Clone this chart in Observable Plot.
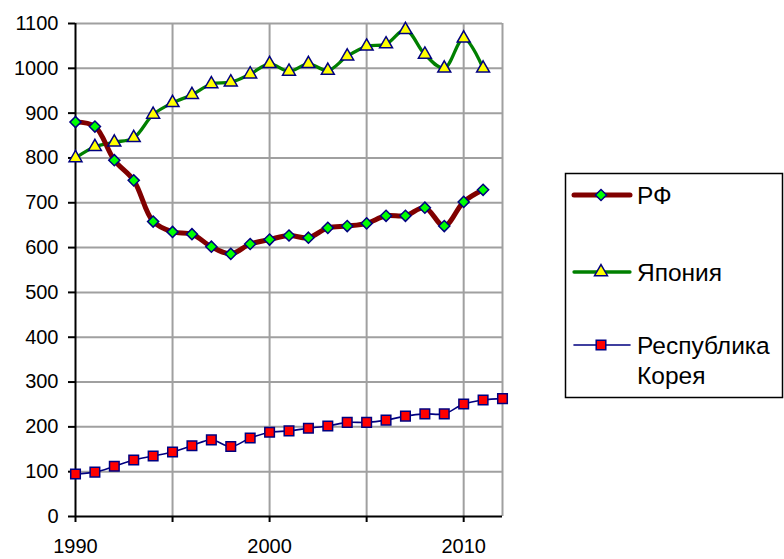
<!DOCTYPE html>
<html>
<head>
<meta charset="utf-8">
<script src="https://cdn.jsdelivr.net/npm/d3@7"></script>
<script src="https://cdn.jsdelivr.net/npm/@observablehq/plot@0.6"></script>
<style>
  html, body { margin: 0; padding: 0; background: white; }
  #wrap { position: relative; width: 784px; height: 559px; }
  #wrap svg { position: absolute; left: 0; top: 0; }
</style>
</head>
<body>
<div id="wrap"></div>
<script>
const years = [1990,1991,1992,1993,1994,1995,1996,1997,1998,1999,2000,2001,2002,2003,2004,2005,2006,2007,2008,2009,2010,2011];
const yearsKorea = [1990,1991,1992,1993,1994,1995,1996,1997,1998,1999,2000,2001,2002,2003,2004,2005,2006,2007,2008,2009,2010,2011,2012];
const rf = [880,870,795,750,658,635,630,602,586,608,618,627,622,644,648,654,671,671,689,648,702,729];
const japan = [800,825,835,845,897,923,941,965,969,987,1010,993,1010,995,1027,1049,1054,1086,1031,1000,1067,1000];
const korea = [95,99,112,126,135,144,158,171,156,175,188,191,197,202,210,210,215,224,229,229,251,260,263];
const seriesNames = ["РФ", "Япония", "Республика Корея"];
const xTicks = [1990,1995,2000,2005,2010];
const yTicks = [0,100,200,300,400,500,600,700,800,900,1000,1100];

const rfData = years.map((x, i) => ({x, y: rf[i]}));
const jpData = years.map((x, i) => ({x, y: japan[i]}));
const krData = yearsKorea.map((x, i) => ({x, y: korea[i]}));

const navy = "#000080";
const grid = "#a0a0a0";
const font = "'Liberation Sans', Arial, sans-serif";

const chart = Plot.plot({
  width: 784,
  height: 559,
  marginLeft: 75,
  marginRight: 282,
  marginTop: 23,
  marginBottom: 43,
  x: {domain: [1990, 2012]},
  y: {domain: [0, 1100]},
  style: {fontFamily: font, fontSize: "20px", color: "black", background: "transparent", overflow: "visible"},
  marks: [
    Plot.gridX([1995, 2000, 2005, 2010, 2012], {stroke: grid, strokeOpacity: 1, strokeWidth: 2}),
    Plot.gridY(yTicks.filter(d => d > 0), {stroke: grid, strokeOpacity: 1, strokeWidth: 2}),
    Plot.axisY(yTicks, {tickSize: 7, tickPadding: 10, strokeWidth: 2, label: null, fontSize: 20,
      tickFormat: d => String(d)}),
    Plot.axisX(xTicks, {tickSize: 6, tickPadding: 16, strokeWidth: 2, label: null, fontSize: 20,
      tickFormat: d => d % 10 === 0 ? String(d) : ""}),
    Plot.ruleX([1990], {stroke: "black", strokeWidth: 2}),
    Plot.ruleY([0], {stroke: "black", strokeWidth: 2}),
    Plot.line(krData, {x: "x", y: "y", stroke: navy, strokeWidth: 1.6, curve: "catmull-rom"}),
    Plot.line(jpData, {x: "x", y: "y", stroke: "#008000", strokeWidth: 3.3, curve: "catmull-rom"}),
    Plot.line(rfData, {x: "x", y: "y", stroke: "#800000", strokeWidth: 5, curve: "catmull-rom"}),
    Plot.dot(krData, {x: "x", y: "y", symbol: "square", r: 5.4, fill: "#ff0000", stroke: navy, strokeWidth: 1.5}),
    Plot.dot(jpData, {x: "x", y: "y", symbol: "triangle", r: 4.8, fill: "#ffff00", stroke: navy, strokeWidth: 1.5}),
    Plot.dot(rfData, {x: "x", y: "y", symbol: "diamond2", r: 5, fill: "#00ff00", stroke: navy, strokeWidth: 1.5})
  ]
});
document.getElementById("wrap").appendChild(chart);

// Legend
const leg = d3.select("#wrap").append("svg")
  .attr("width", 784).attr("height", 559)
  .style("pointer-events", "none")
  .style("font-family", font);
leg.append("rect").attr("x", 565.5).attr("y", 173.5).attr("width", 217).attr("height", 224)
  .attr("fill", "white").attr("stroke", "black").attr("stroke-width", 1.5);

const items = [
  {name: seriesNames[0], y: 195, stroke: "#800000", sw: 5, sym: d3.symbolDiamond2, size: Math.PI * 5 * 5, fill: "#00ff00"},
  {name: seriesNames[1], y: 272, stroke: "#008000", sw: 3.3, sym: d3.symbolTriangle, size: Math.PI * 4.8 * 4.8, fill: "#ffff00"},
  {name: seriesNames[2], y: 345, stroke: navy, sw: 1.6, sym: d3.symbolSquare, size: Math.PI * 5.4 * 5.4, fill: "#ff0000"}
];
items.forEach(it => {
  leg.append("line").attr("x1", 574).attr("x2", 630).attr("y1", it.y).attr("y2", it.y)
    .attr("stroke", it.stroke).attr("stroke-width", it.sw).attr("stroke-linecap", "round");
  leg.append("path").attr("d", d3.symbol(it.sym, it.size)())
    .attr("transform", `translate(601,${it.y})`)
    .attr("fill", it.fill).attr("stroke", navy).attr("stroke-width", 1.5);
  const words = it.name.split(" ");
  const t = leg.append("text").attr("x", 637).attr("y", it.y).attr("font-size", 24.5);
  words.forEach((w, i) => {
    t.append("tspan").attr("x", 637).attr("dy", i === 0 ? "0.35em" : "1.25em").text(w);
  });
});
</script>
</body>
</html>
